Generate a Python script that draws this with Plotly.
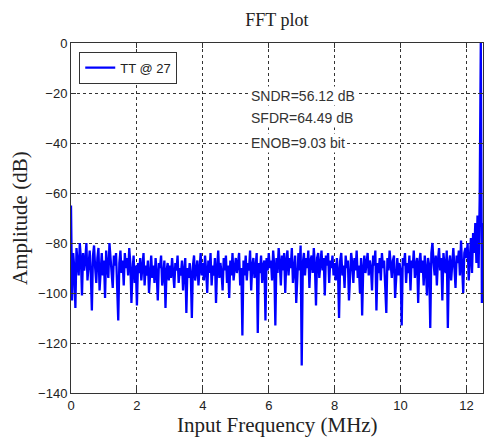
import numpy as np
import plotly.graph_objects as go

# FFT amplitude (dB) per bin, 30 bins per MHz, 0 .. 12.5 MHz
amp_0 = [-65, -103, -84, -90, -106, -82, -88, -93, -80, -86, -101, -84, -91, -87, -80,
         -95, -89, -83, -92, -107, -85, -81, -90, -96, -86, -82, -99, -88, -84, -93]
amp_1 = [-87, -102, -83, -90, -94, -80, -86, -91, -98, -85, -89, -84, -95, -111, -88,
         -83, -92, -87, -97, -84, -90, -86, -93, -82, -88, -104, -91, -85, -96, -89]
amp_2 = [-105, -88, -92, -86, -95, -90, -84, -97, -89, -93, -87, -100, -91, -85, -94,
         -89, -96, -86, -92, -103, -88, -90, -85, -97, -93, -87, -106, -91, -88, -95]
amp_3 = [-89, -94, -86, -92, -98, -88, -91, -85, -96, -90, -93, -87, -99, -91, -86,
         -108, -90, -94, -88, -92, -110, -89, -85, -95, -91, -87, -97, -90, -84, -93]
amp_4 = [-88, -95, -85, -91, -100, -87, -92, -84, -97, -89, -93, -86, -104, -90, -83,
         -94, -88, -92, -99, -86, -91, -85, -96, -89, -102, -87, -93, -84, -95, -90]
amp_5 = [-86, -92, -89, -84, -97, -90, -117, -87, -93, -85, -95, -88, -91, -83, -99,
         -89, -86, -94, -90, -84, -116, -88, -92, -85, -96, -89, -87, -111, -86, -91]
amp_6 = [-84, -90, -87, -95, -83, -89, -113, -86, -92, -82, -88, -97, -85, -91, -84,
         -100, -87, -83, -93, -86, -90, -82, -96, -88, -85, -104, -89, -84, -91, -81]
amp_7 = [-129, -88, -84, -93, -86, -90, -83, -98, -87, -85, -92, -82, -89, -105, -86,
         -84, -94, -88, -83, -91, -86, -101, -85, -89, -84, -96, -87, -90, -85, -93]
amp_8 = [-88, -95, -86, -91, -110, -87, -84, -93, -89, -98, -85, -90, -87, -103, -92,
         -84, -88, -96, -86, -91, -83, -94, -89, -100, -86, -109, -90, -85, -92, -88]
amp_9 = [-84, -93, -87, -90, -99, -85, -89, -83, -107, -88, -92, -86, -95, -84, -90,
         -87, -97, -108, -86, -91, -83, -89, -94, -87, -85, -102, -90, -86, -93, -88]
amp_10 = [-91, -113, -86, -89, -84, -96, -88, -92, -85, -99, -87, -90, -83, -94, -89,
          -86, -104, -88, -84, -92, -87, -97, -85, -90, -101, -86, -89, -114, -84, -80]
amp_11 = [-88, -93, -85, -97, -87, -82, -91, -86, -103, -84, -89, -92, -83, -114, -88,
          -85, -95, -86, -82, -90, -98, -85, -88, -83, -93, -79, -87, -100, -84, -82]
amp_12 = [-86, -80, -95, -83, -78, -92, -76, -84, -72, -88, -69, -90, -62, 0, -104, -72]

amplitude = (amp_0 + amp_1 + amp_2 + amp_3 + amp_4 + amp_5 + amp_6 + amp_7 + amp_8
             + amp_9 + amp_10 + amp_11 + amp_12)
bins_per_mhz = 30
freq = np.arange(len(amplitude)) / bins_per_mhz

legend_name = "TT @ 27"
metrics = ["SNDR=56.12 dB", "SFDR=64.49 dB", "ENOB=9.03 bit"]
metric_y = [-21, -30, -40]

x_ticks = [0, 2, 4, 6, 8, 10, 12]
y_ticks = [0, -20, -40, -60, -80, -100, -120, -140]

fig = go.Figure()
fig.add_trace(go.Scatter(x=freq, y=amplitude, mode="lines", name=legend_name,
                         line=dict(color="#0000FF", width=2.3)))

axis_common = dict(showline=True, linecolor="#333333", linewidth=1, mirror="ticks",
                   ticks="inside", ticklen=5, tickcolor="#333333",
                   showgrid=True, gridcolor="#333333", gridwidth=1, griddash="3px,3px",
                   zeroline=False,
                   tickfont=dict(family="Liberation Sans, Arial", size=13, color="#222222"))

fig.update_xaxes(range=[0, 12.5], tickvals=x_ticks, **axis_common)
fig.update_yaxes(range=[-140, 0], tickvals=y_ticks, **axis_common)

for txt, yv in zip(metrics, metric_y):
    fig.add_annotation(x=5.4, y=yv, xref="x", yref="y", text=txt, showarrow=False,
                       xanchor="left", yanchor="middle", bgcolor="white", borderpad=1,
                       font=dict(family="Liberation Sans, Arial", size=14, color="#333333"))

fig.add_annotation(x=0.5, y=-0.092, xref="paper", yref="paper", text="Input Frequency (MHz)",
                   showarrow=False, xanchor="center", yanchor="middle",
                   font=dict(family="Liberation Serif, Times New Roman", size=21, color="#222222"))
fig.add_annotation(x=-0.124, y=0.5, xref="paper", yref="paper", text="Amplitude (dB)",
                   showarrow=False, xanchor="center", yanchor="middle", textangle=-90,
                   font=dict(family="Liberation Serif, Times New Roman", size=21, color="#222222"))

fig.update_layout(
    width=485, height=439,
    margin=dict(l=71, r=2, t=43, b=46),
    paper_bgcolor="white", plot_bgcolor="white",
    title=dict(text="FFT plot", x=0.571, xanchor="center", y=0.954, yanchor="middle",
               font=dict(family="Liberation Serif, Times New Roman", size=18, color="#222222")),
    showlegend=True,
    legend=dict(x=0.02, y=0.975, xanchor="left", yanchor="top", bgcolor="white",
                bordercolor="#333333", borderwidth=1,
                font=dict(family="Liberation Sans, Arial", size=13, color="#222222"),
                itemwidth=30, tracegroupgap=0),
)

fig.write_html("out.html")
